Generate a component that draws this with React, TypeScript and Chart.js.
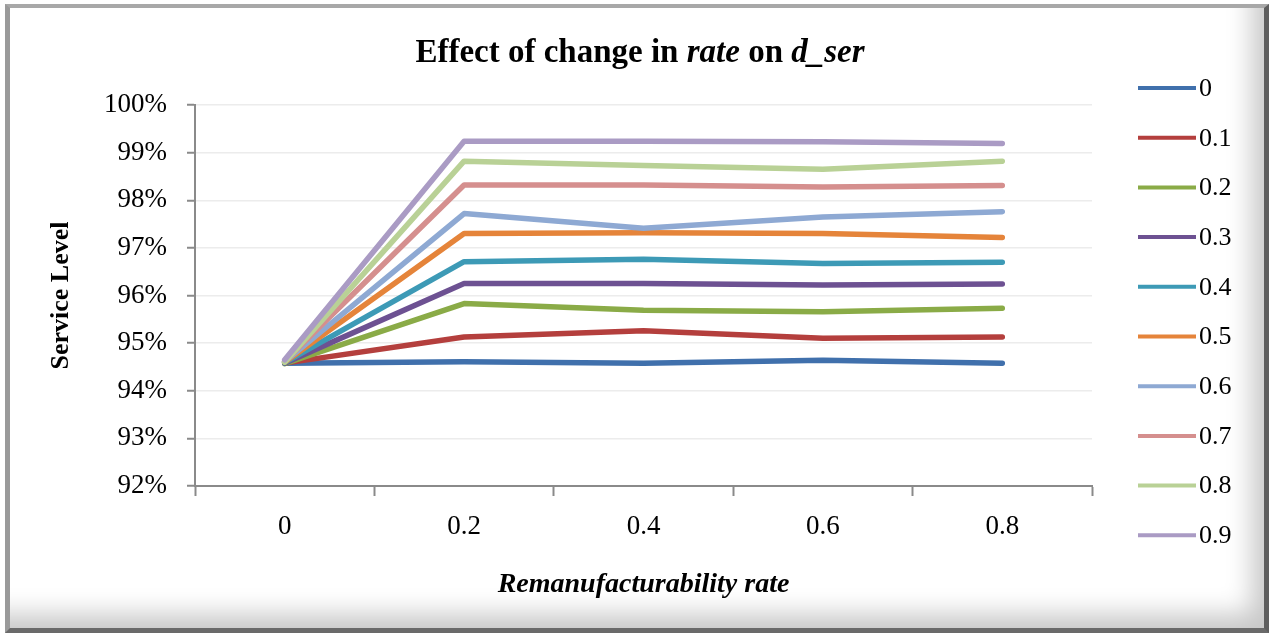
import React, { useEffect, useRef } from "react";
import { Chart, registerables } from "chart.js";

Chart.register(...registerables);

const categories = ["0", "0.2", "0.4", "0.6", "0.8"];
const seriesLabels = ["0", "0.1", "0.2", "0.3", "0.4", "0.5", "0.6", "0.7", "0.8", "0.9"];
const s00 = [94.58, 94.61, 94.58, 94.64, 94.58];
const s01 = [94.58, 95.13, 95.26, 95.10, 95.13];
const s02 = [94.57, 95.83, 95.69, 95.66, 95.73];
const s03 = [94.58, 96.25, 96.25, 96.22, 96.24];
const s04 = [94.59, 96.71, 96.76, 96.67, 96.70];
const s05 = [94.60, 97.30, 97.32, 97.30, 97.22];
const s06 = [94.61, 97.72, 97.41, 97.65, 97.76];
const s07 = [94.62, 98.32, 98.32, 98.28, 98.31];
const s08 = [94.60, 98.82, 98.73, 98.65, 98.82];
const s09 = [94.65, 99.24, 99.24, 99.23, 99.19];
const seriesValues = [s00, s01, s02, s03, s04, s05, s06, s07, s08, s09];
const seriesColors = [
  "#4070ac", "#b43f3d", "#8aab47", "#6d5192", "#3d9ab6",
  "#e5843a", "#8ea9d3", "#d58f8e", "#b9d196", "#aa9bc4",
];
const yTicks = [92, 93, 94, 95, 96, 97, 98, 99, 100];

const FONT = "'Liberation Serif', 'Times New Roman', serif";

const titlePlugin = {
  id: "mixedTitle",
  afterDraw(chart: any) {
    const ctx = chart.ctx;
    const parts: [string, boolean][] = [
      ["Effect of change in ", false],
      ["rate", true],
      [" on ", false],
      ["d_ser", true],
    ];
    ctx.save();
    ctx.fillStyle = "#000";
    ctx.textBaseline = "alphabetic";
    ctx.textAlign = "left";
    let total = 0;
    const widths: number[] = [];
    for (const [t, it] of parts) {
      ctx.font = `${it ? "italic " : ""}bold 33px ${FONT}`;
      const w = ctx.measureText(t).width;
      widths.push(w);
      total += w;
    }
    let x = 640 - total / 2;
    parts.forEach(([t, it], i) => {
      ctx.font = `${it ? "italic " : ""}bold 33px ${FONT}`;
      ctx.fillText(t, x, 62);
      x += widths[i];
    });
    ctx.restore();
  },
};

const legendPlugin = {
  id: "sideLegend",
  afterDraw(chart: any) {
    const ctx = chart.ctx;
    ctx.save();
    chart.data.datasets.forEach((ds: any, i: number) => {
      const y = 88 + i * 49.7;
      ctx.strokeStyle = ds.borderColor;
      ctx.lineWidth = 4;
      ctx.lineCap = "butt";
      ctx.beginPath();
      ctx.moveTo(1138, y);
      ctx.lineTo(1196, y);
      ctx.stroke();
      ctx.fillStyle = "#000";
      ctx.font = `26px ${FONT}`;
      ctx.textBaseline = "middle";
      ctx.textAlign = "left";
      ctx.fillText(ds.label, 1199, y + 1);
    });
    ctx.restore();
  },
};

export default function App() {
  const ref = useRef<HTMLCanvasElement>(null);
  useEffect(() => {
    if (!ref.current) return;
    const chart = new Chart(ref.current, {
      type: "line",
      data: {
        labels: categories,
        datasets: seriesValues.map((vals, i) => ({
          label: seriesLabels[i],
          data: vals,
          borderColor: seriesColors[i],
          backgroundColor: seriesColors[i],
          borderWidth: 5.5,
          pointRadius: 0,
          tension: 0,
          borderCapStyle: "round",
          borderJoinStyle: "round",
          order: 10 - i,
        })),
      },
      options: {
        responsive: false,
        animation: false,
        devicePixelRatio: 1,
        layout: { padding: { top: 105, right: 180, bottom: 32, left: 46 } },
        plugins: {
          legend: { display: false },
          title: { display: false },
          tooltip: { enabled: false },
        },
        scales: {
          x: {
            type: "category",
            offset: true,
            afterFit: (scale: any) => {
              scale.height = 116;
            },
            grid: {
              offset: true,
              drawOnChartArea: false,
              drawTicks: true,
              tickLength: 10,
              tickColor: "#8a8a8a",
              tickWidth: 2,
            },
            border: { display: true, color: "#8a8a8a", width: 2 },
            ticks: {
              padding: 15,
              color: "#000",
              font: { family: FONT, size: 27 },
              maxRotation: 0,
            },
            title: {
              display: true,
              text: "Remanufacturability rate",
              color: "#000",
              padding: 0,
              font: { family: FONT, size: 28, weight: "bold", style: "italic" },
            },
          },
          y: {
            min: 92,
            max: 100,
            afterFit: (scale: any) => {
              scale.width = 149;
            },
            afterBuildTicks: (scale: any) => {
              scale.ticks = yTicks.map((v) => ({ value: v }));
            },
            grid: {
              color: "#ececec",
              lineWidth: 1.5,
              tickLength: 8,
              tickColor: "#8a8a8a",
              tickWidth: 2,
            },
            border: { display: true, color: "#8a8a8a", width: 2 },
            ticks: {
              padding: 20,
              color: "#000",
              font: { family: FONT, size: 27 },
              callback: (v: any) => `${v}%`,
            },
            title: {
              display: true,
              text: "Service Level",
              color: "#000",
              padding: 0,
              font: { family: FONT, size: 26, weight: "bold" },
            },
          },
        },
      },
      plugins: [titlePlugin, legendPlugin],
    } as any);
    return () => chart.destroy();
  }, []);

  return (
    <div style={{ position: "fixed", left: 0, top: 0, width: 1272, height: 634, background: "#fff" }}>
      <div
        style={{
          position: "absolute",
          left: 5,
          top: 4,
          width: 1254,
          height: 620,
          borderLeft: "5px solid #9a9a9a",
          borderTop: "4px solid #a8a8a8",
          borderRight: "5px solid #5e5e5e",
          borderBottom: "5px solid #6a6a6a",
          boxShadow: "inset -26px -28px 26px -14px rgba(0,0,0,0.22)",
          background: "#fff",
        }}
      />
      <canvas
        ref={ref}
        width={1272}
        height={634}
        style={{ position: "absolute", left: 0, top: 0, width: 1272, height: 634 }}
      />
    </div>
  );
}
